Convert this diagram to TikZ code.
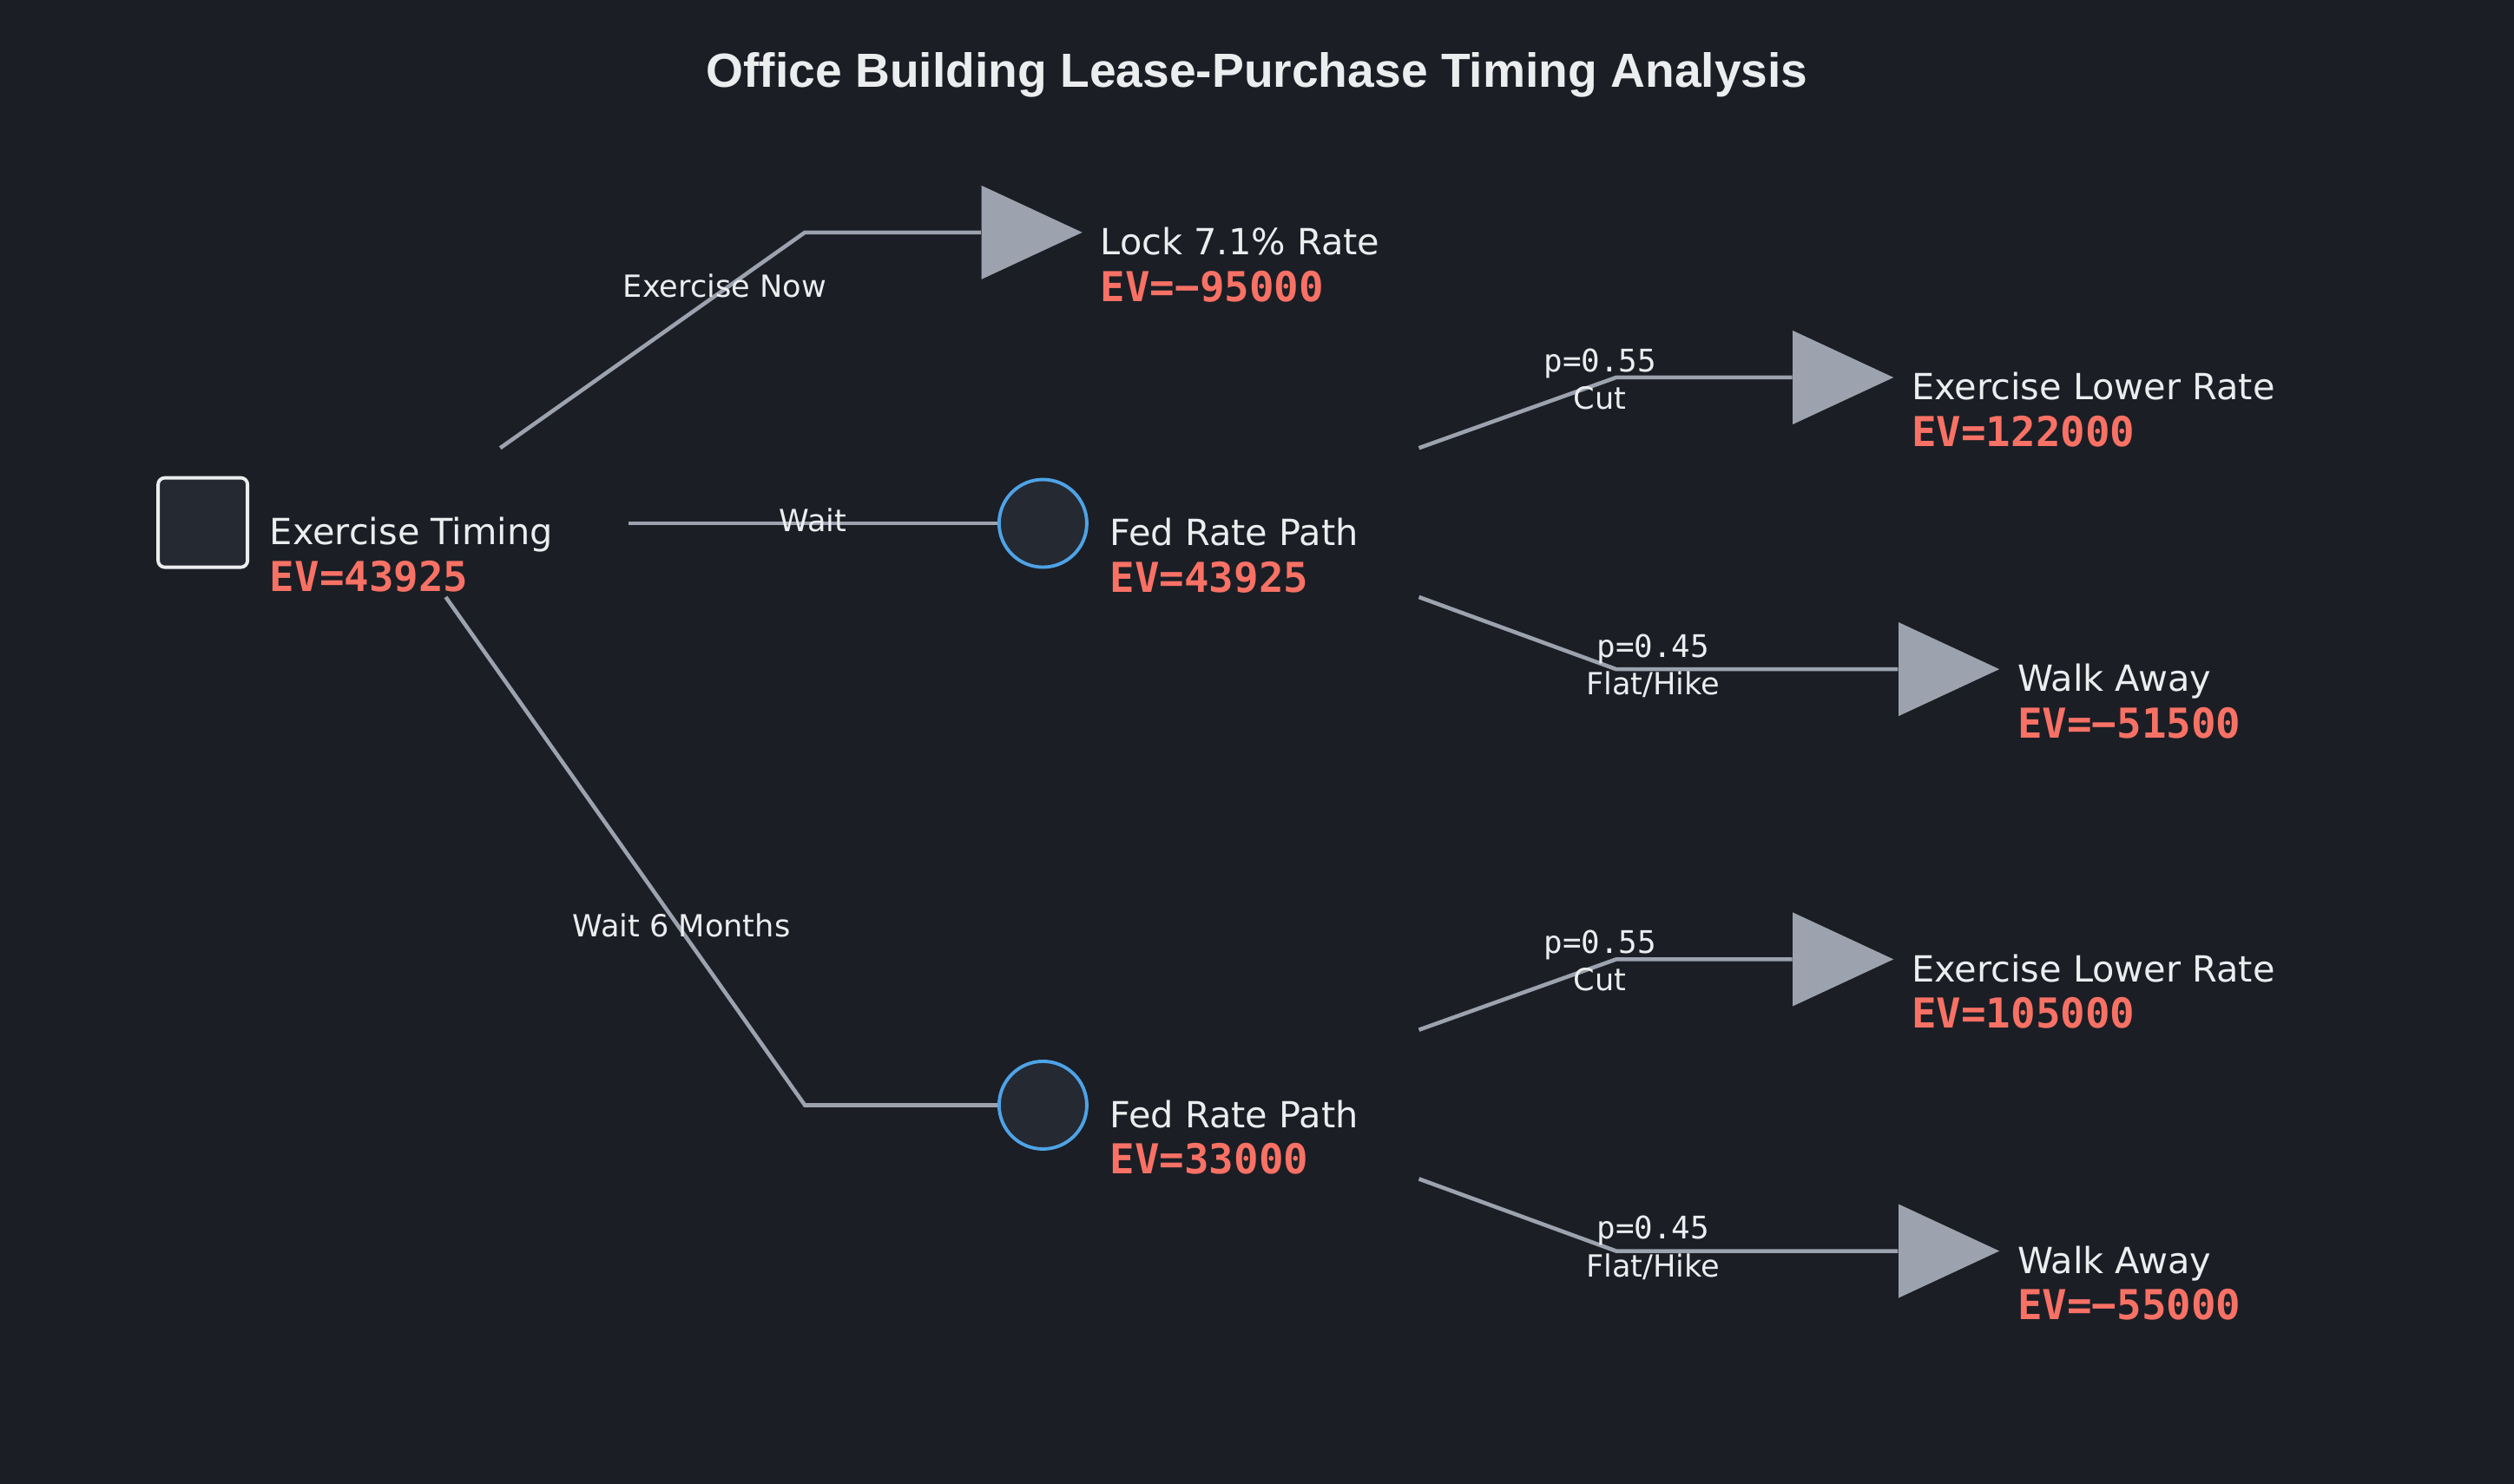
\documentclass[tikz,border=0pt]{standalone}
\usepackage{fontspec}
\setmainfont{DejaVu Sans}
\newfontfamily\monofont{DejaVu Sans Mono}
\newfontfamily\titlefont{Liberation Sans}
\usepackage{tikz}
\usetikzlibrary{shapes.geometric}
\definecolor{bgc}{HTML}{1B1E25}
\definecolor{nodefill}{HTML}{252932}
\definecolor{linegray}{HTML}{9CA3AF}
\definecolor{evred}{HTML}{F87165}
\definecolor{chanceblue}{HTML}{4EA3E6}
\definecolor{txt}{HTML}{ECEDEF}
% name and EV of a node: #1 anchor, #2 name, #3 ev
\newcommand{\nodelab}[4]{
	\node[lname] (#1name) at ([shift={(#2,14)}]#1) {#3};
	\node[lev] (#1ev) at ([shift={(#2,43)}]#1) {#4};
	}
% probability and outcome on a chance branch
\newcommand{\prob}[4]{
	\node[plab] at (#1,#2) {#3};
	\node[olab] at (#1,#2+23.5) {#4};
	}

\begin{document}
\begin{tikzpicture}[
      x=0.018469cm, y=-0.018469cm, %one unit = one pixel of the sketch
      branch/.style={linegray, line width=1.3pt},
      decision/.style={draw=txt, fill=nodefill, line width=1.1pt, rounded corners=2.2pt, minimum size=1.03cm, inner sep=0pt},
      chance/.style={circle, draw=chanceblue, fill=nodefill, line width=1.1pt, minimum size=1.01cm, inner sep=0pt},
      leaf/.style={isosceles triangle, isosceles triangle stretches, fill=linegray, inner sep=0pt, minimum width=1.08cm, minimum height=1.16cm, anchor=apex},
      lname/.style={anchor=base west, inner sep=0pt, text=txt, font=\fontsize{11.8}{14}\selectfont},
      lev/.style={anchor=base west, inner sep=0pt, text=evred, font=\monofont\bfseries\fontsize{13.5}{16}\selectfont},
      blab/.style={anchor=base, inner sep=0pt, text=txt, font=\fontsize{10}{12}\selectfont},
      plab/.style={anchor=base, inner sep=0pt, text=txt, font=\monofont\fontsize{10.2}{12}\selectfont},
      olab/.style={blab}
    ]
    \fill[bgc] (0,0) rectangle (1568,925.86);
    \useasboundingbox (0,0) rectangle (1568,925.86);
    %title
    \node[anchor=base, inner sep=0pt, text=txt, font=\titlefont\bfseries\fontsize{15.7}{18}\selectfont] (title) at (784,54.5) {Office Building Lease-Purchase Timing Analysis};
    % decision and chance nodes
    \node[decision] (root) at (126.5,326) {};
    \node[chance] (fed1) at (650.5,326.5) {};
    \node[chance] (fed2) at (650.5,689.5) {};
    % end nodes
    \node[leaf] (lock) at (676,145) {};
    \node[leaf] (low1) at (1182,235.5) {};
    \node[leaf] (walk1) at (1248,417.5) {};
    \node[leaf] (low2) at (1182,598.5) {};
    \node[leaf] (walk2) at (1248,780.5) {};
    % branch points
    \coordinate (r1) at (312,279.5);
    \coordinate (r2) at (392,326.5);
    \coordinate (r3) at (278,372.5);
    \coordinate (k1) at (502,145);
    \coordinate (k3) at (502,689.5);
    \coordinate (f1) at (885,279.5);
    \coordinate (f2) at (885,372.5);
    \coordinate (f3) at (885,642.5);
    \coordinate (f4) at (885,735.5);
    \coordinate (g1) at (1008,235.5);
    \coordinate (g2) at (1008,417.5);
    \coordinate (g3) at (1008,598.5);
    \coordinate (g4) at (1008,780.5);
    % branches
    \draw[branch] (r1) -- (k1) -- (lock);
    \draw[branch] (r2) -- (fed1);
    \draw[branch] (r3) -- (k3) -- (fed2);
    \draw[branch] (f1) -- (g1) -- (low1);
    \draw[branch] (f2) -- (g2) -- (walk1);
    \draw[branch] (f3) -- (g3) -- (low2);
    \draw[branch] (f4) -- (g4) -- (walk2);
    % branch labels
    \node[blab] at (452,185.4) {Exercise Now};
    \node[blab] at (507,331.5) {Wait};
    \node[blab] at (425,584.7) {Wait 6 Months};
    \prob{998}{231.8}{p=0.55}{Cut};
    \prob{1031}{410}{p=0.45}{Flat/Hike};
    \prob{998}{594.8}{p=0.55}{Cut};
    \prob{1031}{773}{p=0.45}{Flat/Hike};
    % node labels
    \nodelab{root.east}{12.5}{Exercise Timing}{EV=43925};
    \nodelab{fed1.east}{13}{Fed Rate Path}{EV=43925};
    \nodelab{fed2.east}{13}{Fed Rate Path}{EV=33000};
    \nodelab{lock.apex}{10}{Lock 7.1\% Rate}{EV=−95000};
    \nodelab{low1.apex}{10}{Exercise Lower Rate}{EV=122000};
    \nodelab{walk1.apex}{10}{Walk Away}{EV=−51500};
    \nodelab{low2.apex}{10}{Exercise Lower Rate}{EV=105000};
    \nodelab{walk2.apex}{10}{Walk Away}{EV=−55000};
    \end{tikzpicture}
\end{document}
